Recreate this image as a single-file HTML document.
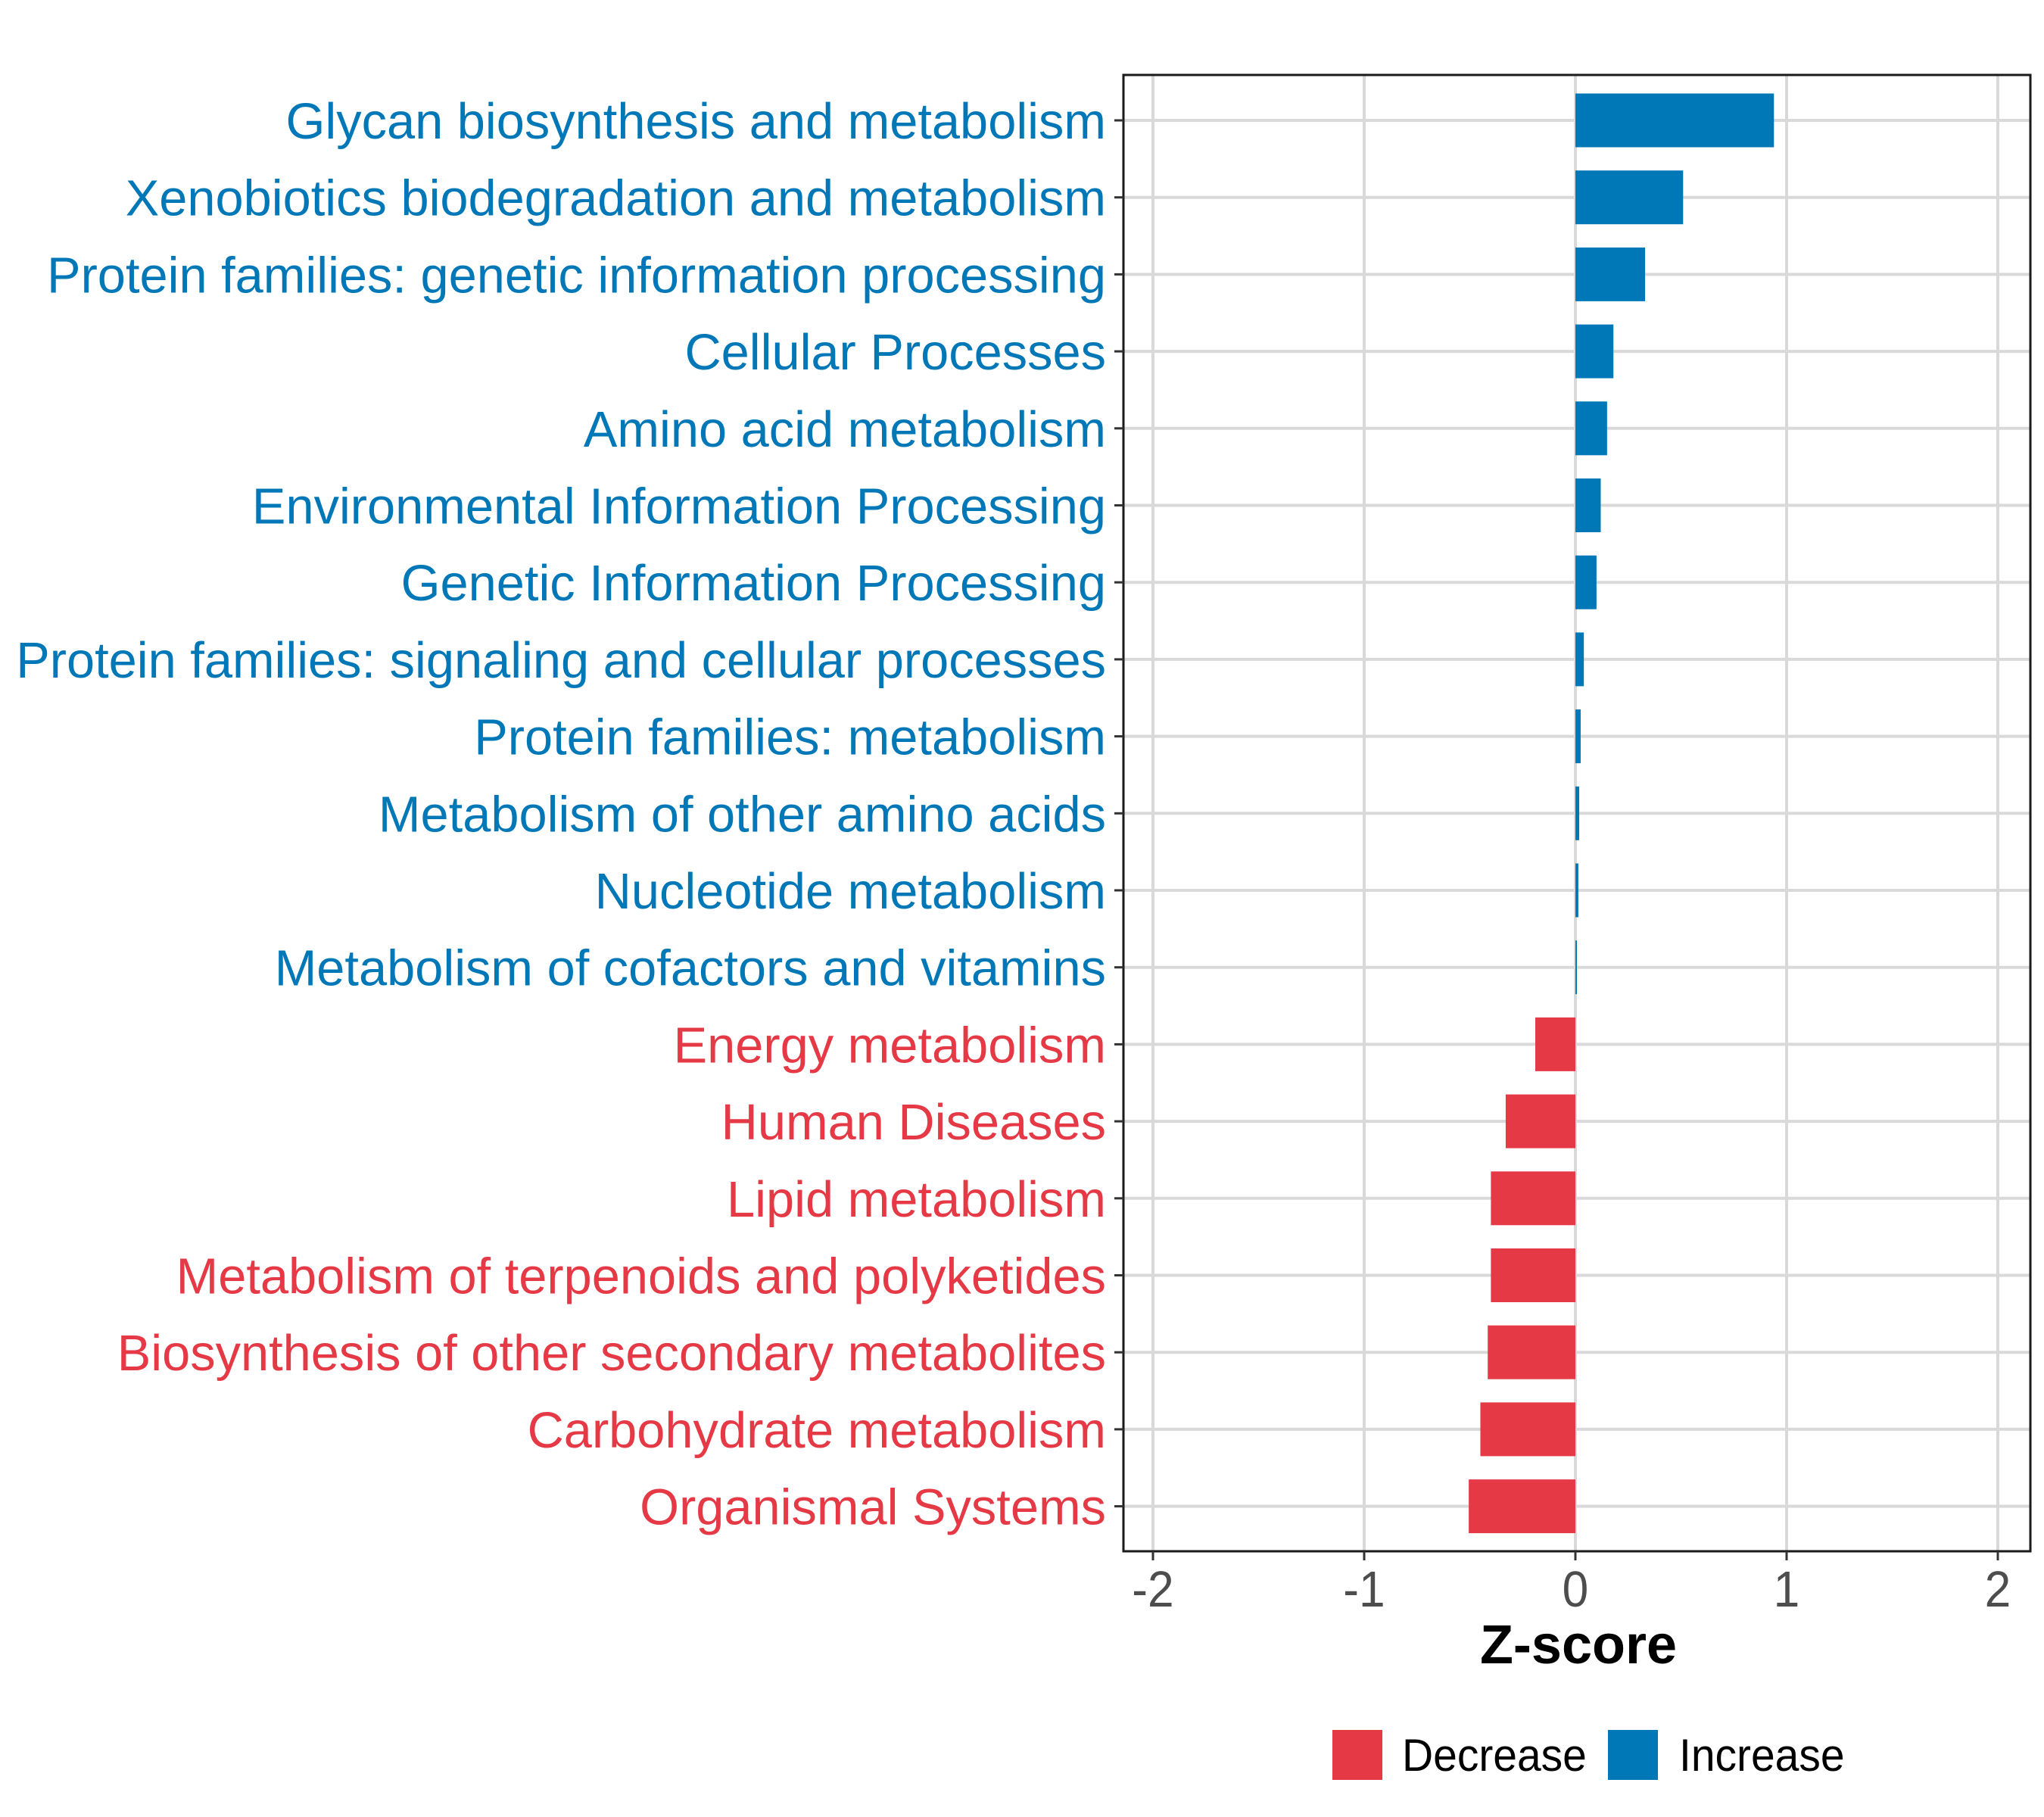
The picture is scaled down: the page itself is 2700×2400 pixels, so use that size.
<!DOCTYPE html>
<html><head><meta charset="utf-8"><style>
html,body{margin:0;padding:0;background:#fff;}
svg{display:block;font-family:"Liberation Sans",Arial,sans-serif;}
</style></head><body>
<svg id="chart" width="2700" height="2400" viewBox="0 0 2700 2400" xmlns="http://www.w3.org/2000/svg">
<rect width="2700" height="2400" fill="#fff"/>
<g id="grid"></g>
<g id="bars"></g>
<rect x="1484" y="99" width="1198" height="1950" fill="none" stroke="#1a1a1a" stroke-width="3"/>
<g id="ylabels"></g>
<g id="xticks"></g>
<text x="2085" y="2197" text-anchor="middle" font-size="72" font-weight="bold" fill="#000">Z-score</text>
<g>
<rect x="1760" y="2285" width="66" height="66" fill="#e63946"/>
<text x="1852" y="2339" font-size="60" fill="#000" transform="translate(1852 0) scale(0.95 1) translate(-1852 0)">Decrease</text>
<rect x="2124" y="2285" width="66" height="66" fill="#0077b6"/>
<text x="2218" y="2339" font-size="60" fill="#000" transform="translate(2218 0) scale(0.95 1) translate(-2218 0)">Increase</text>
</g>
</svg>
<script>
const categories = ["Glycan biosynthesis and metabolism","Xenobiotics biodegradation and metabolism","Protein families: genetic information processing","Cellular Processes","Amino acid metabolism","Environmental Information Processing","Genetic Information Processing","Protein families: signaling and cellular processes","Protein families: metabolism","Metabolism of other amino acids","Nucleotide metabolism","Metabolism of cofactors and vitamins","Energy metabolism","Human Diseases","Lipid metabolism","Metabolism of terpenoids and polyketides","Biosynthesis of other secondary metabolites","Carbohydrate metabolism","Organismal Systems"];
const zscores = [0.94,0.51,0.33,0.18,0.15,0.12,0.10,0.04,0.025,0.018,0.014,0.007,-0.19,-0.33,-0.40,-0.40,-0.415,-0.45,-0.505];
const xTicks = [-2,-1,0,1,2];
const xTickLabels = ["-2","-1","0","1","2"];

const NS="http://www.w3.org/2000/svg";
const X0=2081, UNIT=279, Y0=159, STEP=101.7, BARH=71;
const xScale=v=>X0+v*UNIT;
const yScale=i=>Y0+i*STEP;
const BLUE="#0077b6", RED="#e63946";
function mk(tag,attrs,parent){const e=document.createElementNS(NS,tag);for(const k in attrs)e.setAttribute(k,attrs[k]);parent.appendChild(e);return e;}
const grid=document.getElementById('grid'), bars=document.getElementById('bars'), yl=document.getElementById('ylabels'), xt=document.getElementById('xticks');

categories.forEach((c,i)=>{
  const y=yScale(i);
  const gl=mk('line',{x1:1484,x2:2682,y1:y,y2:y,stroke:'#d9d9d9','stroke-width':4},grid);
  
  
});
xTicks.forEach((t,i)=>{
  const x=xScale(t);
  const gl=mk('line',{x1:x,x2:x,y1:99,y2:2049,stroke:'#d9d9d9','stroke-width':4},grid);
  
  
  const tk=mk('line',{x1:x,x2:x,y1:2049,y2:2061,stroke:'#333','stroke-width':3},xt);
  
  
  const tl=mk('text',{x:x,y:2122,'text-anchor':'middle','font-size':67,fill:'#4d4d4d',transform:`translate(${x} 0) scale(0.93 1) translate(${-x} 0)`},xt);
  tl.textContent=xTickLabels[i];
  
  
});
categories.forEach((c,i)=>{
  const v=zscores[i], y=yScale(i);
  const x1=Math.min(xScale(0),xScale(v)), w=Math.abs(xScale(v)-xScale(0));
  const r=mk('rect',{x:x1,y:y-BARH/2,width:w,height:BARH,fill:v>=0?BLUE:RED},bars);
  
  
  const tk=mk('line',{x1:1472,x2:1484,y1:y,y2:y,stroke:'#333','stroke-width':3},yl);
  
  
  const t=mk('text',{x:1461,y:y+24,'text-anchor':'end','font-size':67,fill:v>=0?BLUE:RED},yl);
  t.textContent=c;
  
  
});
const labels=yl.querySelectorAll('text');
const longest=labels[7].getComputedTextLength();
const sx=longest>0?1440/longest:0.88;
labels.forEach(t=>{t.setAttribute('transform',`translate(1461 0) scale(${sx} 1) translate(-1461 0)`);});
</script>
</body></html>
